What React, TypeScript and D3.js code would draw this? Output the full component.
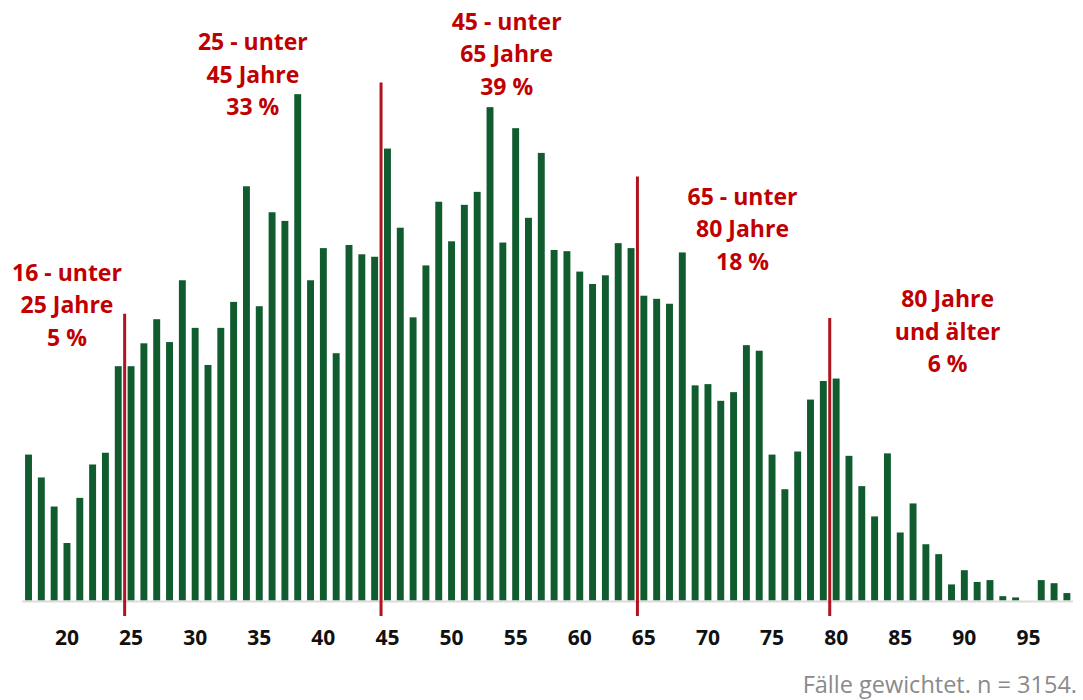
import React from "react";
import * as d3 from "d3";

// Age in years (17..98) and weighted number of cases per age
const ages: number[] = d3.range(17, 99);
const cases: number[] = [
  23.6, 19.9, 15.2, 9.3, 16.6, 22.0, 23.9, 37.9, // 17-24
  37.9, 41.6, 45.5, 41.8, 51.8, 44.1, 38.1, 44.1, 48.3, 67.0, // 25-34
  47.6, 62.8, 61.4, 81.9, 51.8, 57.0, 40.0, 57.5, 56.0, 55.6, // 35-44
  73.1, 60.3, 45.8, 54.2, 64.5, 58.1, 64.0, 66.1, 79.8, 57.9, // 45-54
  76.4, 61.9, 72.4, 56.7, 56.5, 53.2, 51.2, 52.6, 57.8, 57.0, // 55-64
  49.3, 48.8, 48.0, 56.3, 34.8, 35.0, 32.3, 33.7, 41.3, 40.4, // 65-74
  23.6, 18.0, 24.1, 32.5, 35.5, 35.9, 23.4, 18.5, 13.6, 23.8, // 75-84
  11.0, 15.7, 9.1, 7.5, 2.6, 4.9, 3.0, 3.3, 0.7, 0.5, // 85-94
  0, 3.3, 2.8, 1.2, // 95-98
];
const tickAges: number[] = [20, 25, 30, 35, 40, 45, 50, 55, 60, 65, 70, 75, 80, 85, 90, 95];

// Group boundaries (line drawn before this age) and the top of each line in counts
const boundaryAges: number[] = [25, 45, 65, 80];
const boundaryTops: number[] = [46.4, 83.8, 68.6, 45.7];

// Group annotations
const groupLabels: string[][] = [
  ["16 - unter", "25 Jahre", "5 %"],
  ["25 - unter", "45 Jahre", "33 %"],
  ["45 - unter", "65 Jahre", "39 %"],
  ["65 - unter", "80 Jahre", "18 %"],
  ["80 Jahre", "und älter", "6 %"],
];
const groupLabelAges: number[] = [20, 34.5, 54.3, 72.7, 88.7];
const groupLabelTops: number[] = [51.7, 89.0, 92.3, 64.0, 47.4];

const footnote = "Fälle gewichtet. n = 3154.";

const W = 1083;
const H = 700;
const baseY = 600.5;
const GREEN = "#115c2f";
const RED = "#c00000";
const LINE_RED = "#b0141f";
const FONT = "'Open Sans', 'DejaVu Sans', sans-serif";

export default function App() {
  const x = d3
    .scaleBand<number>()
    .domain(ages)
    .range([22.1, 1073.3])
    .paddingInner(0.46)
    .paddingOuter(0.23);
  const y = d3.scaleLinear().domain([0, 90]).range([baseY, baseY - 90 * 6.1824]);
  const step = x.step();
  const ageCenter = (a: number) =>
    (x(Math.floor(a)) as number) + x.bandwidth() / 2 + (a - Math.floor(a)) * step;
  const boundaryX = (a: number) => (x(a) as number) - (step - x.bandwidth()) / 2;

  return (
    <svg
      width={W}
      height={H}
      style={{ position: "absolute", left: 0, top: 0, background: "#fff" }}
      fontFamily={FONT}
    >
      <rect x={0} y={0} width={W} height={H} fill="#fff" />
      {ages.map((a, i) => (
        <rect
          key={a}
          x={x(a)}
          y={y(cases[i])}
          width={x.bandwidth()}
          height={baseY - y(cases[i])}
          fill={GREEN}
        />
      ))}
      <line x1={22} x2={1073} y1={601.5} y2={601.5} stroke="#dcdcdc" strokeWidth={2} />
      {boundaryAges.map((a, i) => (
        <line
          key={a}
          x1={boundaryX(a)}
          x2={boundaryX(a)}
          y1={y(boundaryTops[i])}
          y2={616}
          stroke={LINE_RED}
          strokeWidth={3}
        />
      ))}
      {tickAges.map((a) => (
        <text
          key={a}
          x={ageCenter(a)}
          y={645}
          textAnchor="middle"
          fontSize={21}
          fontWeight={700}
          fill="#111"
        >
          {a}
        </text>
      ))}
      {groupLabels.map((lines, gi) => (
        <text
          key={gi}
          x={ageCenter(groupLabelAges[gi])}
          y={y(groupLabelTops[gi])}
          textAnchor="middle"
          fontSize={23}
          fontWeight={700}
          fill={RED}
        >
          {lines.map((l, li) => (
            <tspan key={li} x={ageCenter(groupLabelAges[gi])} dy={li === 0 ? 0 : 32.5}>
              {l}
            </tspan>
          ))}
        </text>
      ))}
      <text x={1077} y={693} textAnchor="end" fontSize={23.5} fill="#8a8a8a">
        {footnote}
      </text>
    </svg>
  );
}
